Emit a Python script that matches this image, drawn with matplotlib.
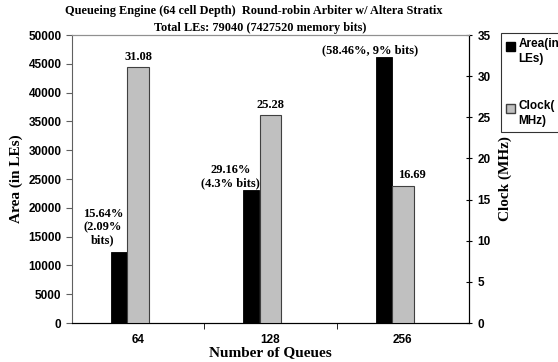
import numpy as np
import matplotlib.pyplot as plt
from matplotlib.patches import Patch

queues = ['64', '128', '256']
area_les = [12362, 23048, 46207]
clock_mhz = [31.08, 25.28, 16.69]
area_notes = ['15.64%\n(2.09%\nbits)', '29.16%\n(4.3% bits)', '(58.46%, 9% bits)']

serif = ['Liberation Serif', 'DejaVu Serif']
sans = ['Liberation Sans', 'DejaVu Sans']

fig = plt.figure(figsize=(5.58, 3.62), dpi=100)
ax = fig.add_axes([72 / 558, 1 - 323 / 362, 397 / 558, 288 / 362])
ax2 = ax.twinx()

x = np.arange(len(queues))
ax.bar(x - 0.145, area_les, width=0.12, color='black', edgecolor='black', linewidth=0.6, zorder=3)
ax2.bar(x, clock_mhz, width=0.166, color='#c0c0c0', edgecolor='#404040', linewidth=0.8, zorder=3)

ax.set_xlim(-0.5, 2.5)
ax.set_ylim(0, 50000)
ax2.set_ylim(0, 35)
ax.set_yticks(np.arange(0, 50001, 5000))
ax2.set_yticks(np.arange(0, 36, 5))

ax.set_xticks(x)
ax.set_xticklabels(queues, fontfamily=sans, fontweight='bold', fontsize=8.5)
ax.set_xticks([0.5, 1.5], minor=True)
ax.tick_params(axis='x', which='major', length=0, pad=8)
ax.tick_params(axis='x', which='minor', length=4, direction='out', color='black')
ax.tick_params(axis='y', length=4, direction='out', color='#606060', labelsize=8.5)
ax2.tick_params(axis='y', length=5, direction='inout', labelsize=8.5)
for lab in ax.get_yticklabels() + ax2.get_yticklabels():
    lab.set_fontfamily(sans)
    lab.set_fontweight('bold')

ax.spines['top'].set_color('#909090')
ax.spines['left'].set_color('#606060')
ax2.spines['top'].set_color('#909090')
ax2.spines['left'].set_visible(False)
ax2.spines['right'].set_color('black')

ax.set_xlabel('Number of Queues', fontfamily=serif, fontweight='bold', fontsize=11, labelpad=0)
ax.set_ylabel('Area (in LEs)', fontfamily=serif, fontweight='bold', fontsize=11, labelpad=4)
ax2.set_ylabel('Clock (MHz)', fontfamily=serif, fontweight='bold', fontsize=11, labelpad=6)

fig.text(254 / 558, 1 - 11 / 362, 'Queueing Engine (64 cell Depth)  Round-robin Arbiter w/ Altera Stratix',
         ha='center', va='center', fontfamily=serif, fontweight='bold', fontsize=8.8)
fig.text(260 / 558, 1 - 28 / 362, 'Total LEs: 79040 (7427520 memory bits)',
         ha='center', va='center', fontfamily=serif, fontweight='bold', fontsize=8.8)

clock_off = [(0, 3), (0, 3), (6.5, 3)]
for i, v in enumerate(clock_mhz):
    ax2.annotate(f'{v:.2f}', (x[i], v), xytext=clock_off[i], textcoords='offset points',
                 ha='center', va='bottom', fontfamily=serif, fontweight='bold', fontsize=9)

note_off = [(-11.5, 4), (-15, 0.5), (-10, 0.5)]
for i, v in enumerate(area_les):
    ax.annotate(area_notes[i], (x[i] - 0.145, v), xytext=note_off[i], textcoords='offset points',
                ha='center', va='bottom', fontfamily=serif, fontweight='bold', fontsize=9,
                linespacing=1.15)

handles = [Patch(facecolor='black', edgecolor='black'),
           Patch(facecolor='#c0c0c0', edgecolor='#404040')]
leg = fig.legend(handles, ['Area(in\nLEs)', 'Clock(\nMHz)'], loc='upper left',
                 bbox_to_anchor=(501 / 558, 1 - 33 / 362), frameon=True, fancybox=False,
                 prop={'family': sans, 'weight': 'bold', 'size': 8.5}, labelspacing=3.0,
                 handlelength=0.75, handleheight=0.75, handletextpad=0.3, borderpad=0.45,
                 borderaxespad=0)
leg.get_frame().set_edgecolor('black')
leg.get_frame().set_linewidth(0.8)
for t in leg.get_texts():
    t.set_linespacing(1.3)
for h in leg.legend_handles:
    h.set_y(h.get_y() + 4)

fig.savefig('out.png', dpi=100)
